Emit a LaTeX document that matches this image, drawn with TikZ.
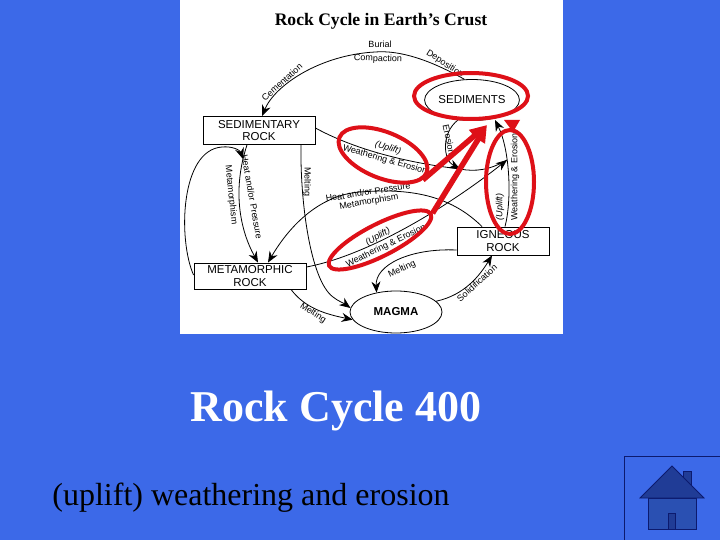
\documentclass[tikz,border=0pt]{standalone}
\usepackage{fontspec}
\setmainfont{Liberation Serif}
\setsansfont{Liberation Sans}
\usetikzlibrary{shapes.geometric, arrows.meta, positioning, calc}
\definecolor{slideblue}{RGB}{60, 105, 232}
\definecolor{ringred}{RGB}{222, 16, 24}
\definecolor{homenavy}{RGB}{12, 26, 110}
\definecolor{roofblue}{RGB}{32, 60, 150}
\definecolor{wallblue}{RGB}{42, 80, 178}
\begin{document}
\begin{tikzpicture}[
    x=1pt, y=-1pt,
    every node/.style={font=\sffamily\fontsize{9}{10}\selectfont, inner sep=0pt},
    rockbox/.style={rectangle, draw=black, fill=white, line width=0.9pt, align=center, font=\sffamily\fontsize{11.5}{12.5}\selectfont},
    rockoval/.style={ellipse, draw=black, fill=white, line width=0.8pt, align=center, font=\sffamily\fontsize{11.5}{12.5}\selectfont},
    arrow/.style={-{Stealth[length=11pt, width=9pt]}, line width=0.8pt, color=black},
    plainline/.style={line width=0.8pt, color=black},
    redring/.style={ellipse, draw=ringred, line width=4pt, fill=none},
    redarrow/.style={-{Triangle[length=17pt, width=15pt]}, line width=5.5pt, color=ringred}
]

% Slide and picture panel
\useasboundingbox (0,0) rectangle (720,540);
\fill[slideblue] (0,0) rectangle (720,540);
\fill[white] (180,0) rectangle (563,334);

% Title and slide text
\node[font=\rmfamily\bfseries\fontsize{17.6}{19}\selectfont] (title) at (381,21) {Rock Cycle in Earth's Crust};
\node[font=\rmfamily\bfseries\fontsize{44}{48}\selectfont, text=white] (points) at (336,411) {Rock Cycle 400};
\node[font=\rmfamily\fontsize{32}{36}\selectfont, text=black] (answer) at (251,498) {(uplift) weathering and erosion};

% Rock boxes and ovals
\node[rockbox, minimum width=112pt, minimum height=28pt] (sedrock) at (259,130.5) {SEDIMENTARY\\ROCK};
\node[rockbox, minimum width=112pt, minimum height=26pt] (metrock) at (250,276) {METAMORPHIC\\ROCK};
\node[rockbox, minimum width=92pt, minimum height=28pt] (ignrock) at (503,241) {IGNEOUS\\ROCK};
\node[rockoval, minimum width=90pt, minimum height=41pt] (sediments) at (472,100) {SEDIMENTS};
\node[rockoval, minimum width=92pt, minimum height=42pt] (magma) at (396,312) {\bfseries MAGMA};

% Free ends where the lines meet
\coordinate (erosionjoin) at (460,169);
\coordinate (uplifttip) at (507,160);
\coordinate (weathertip) at (495,120);

% Sediments to sedimentary rock
\draw[arrow] (sediments.110) .. controls (430,60) and (400,50) .. (375,52)
    .. controls (320,55) and (275,85) .. ([xshift=3pt]sedrock.north);

% Sedimentary and metamorphic loop
\draw[arrow] ([xshift=-12pt]sedrock.south) .. controls (232,190) and (240,230) .. ([xshift=8pt]metrock.north);
\draw[arrow] ([yshift=1pt]metrock.west) .. controls (178,240) and (180,150) .. (222,147) .. controls (232,146) and (240,150) .. (243,159);

% Melting to magma
\draw[arrow] ([xshift=42pt]sedrock.south) .. controls (300,200) and (310,280) .. (333,297) .. controls (338,301) and (345,304) .. (magma.175);
\draw[arrow] ([xshift=41pt]metrock.south) .. controls (305,308) and (325,314) .. (magma.190);
\draw[arrow] ([yshift=-9pt]ignrock.west) .. controls (410,248) and (375,265) .. (magma.135);

% Magma to igneous rock
\draw[arrow] (magma.15) .. controls (465,295) and (480,275) .. ([xshift=-11pt]ignrock.south);

% Weathering lines
\draw[plainline] ([yshift=2.5pt]sedrock.east) .. controls (350,147) and (400,162) .. (erosionjoin);
\draw[arrow] (sediments.235) .. controls (441,133) and (443,160) .. (erosionjoin);
\draw[plainline] (erosionjoin) .. controls (475,172) and (490,170) .. (uplifttip);
\draw[arrow] ([yshift=9pt]metrock.east) .. controls (370,255) and (450,205) .. (uplifttip);
\draw[arrow] ([xshift=2pt]ignrock.north) .. controls (512,200) and (510,150) .. (weathertip);

% Heat and pressure from igneous rock
\draw[arrow] ([xshift=-21pt]ignrock.north) .. controls (450,195) and (410,188) .. (360,192)
    .. controls (320,195) and (290,225) .. ([xshift=18pt]metrock.north);

% Labels
\node (burial) at (380,44) {Burial};
\node[rotate=-2] (compaction) at (378,59) {Compaction};
\node[rotate=-33] (deposition) at (445,64) {Deposition};
\node[rotate=42] (cementation) at (282,82) {Cementation};
\node[rotate=-78] (erosion) at (449,140) {Erosion};
\node[rotate=-17] (upliftone) at (388,148) {\itshape (Uplift)};
\node[rotate=-16] (weatherone) at (385,160) {Weathering \& Erosion};
\node[rotate=9] (heatmid) at (368,192) {Heat and/or Pressure};
\node[rotate=10] (metamid) at (369,202) {Metamorphism};
\node[rotate=30] (uplifttwo) at (378,237) {\itshape (Uplift)};
\node[rotate=26] (weathertwo) at (386,246) {Weathering \& Erosion};
\node[rotate=25] (meltign) at (402,269) {Melting};
\node[rotate=-33] (meltmet) at (313,313) {Melting};
\node[rotate=42] (solid) at (477,283) {Solidification};
\node[rotate=-90] (meltsed) at (307,182) {Melting};
\node[rotate=-80] (heatleft) at (252,197) {Heat and/or Pressure};
\node[rotate=-84] (metaleft) at (231,195) {Metamorphism};
\node[rotate=90] (upliftthree) at (500,207) {\itshape (Uplift)};
\node[rotate=90] (weatherthree) at (515,177) {Weathering \& Erosion};

% Red highlights
\node[redring, minimum width=114pt, minimum height=46pt] (ringsed) at (471,96) {};
\node[redring, minimum width=94pt, minimum height=46pt, rotate=-22] (ringtop) at (383,155) {};
\node[redring, minimum width=114pt, minimum height=32pt, rotate=27] (ringlow) at (380,240) {};
\node[redring, minimum width=48pt, minimum height=104pt] (ringright) at (510,182) {};
\coordinate (redtip) at (487,125);
\draw[redarrow] (ringtop.-10) -- (redtip);
\draw[redarrow] (ringlow.east) -- (redtip);
\fill[ringred] (504,120) -- (520,120) -- (513,132) -- cycle;

% Home button
\draw[homenavy, line width=1pt] (720,456) -- (624,456) -- (624,540);
\draw[homenavy, fill=roofblue, line width=0.8pt] (683,479) -- (683,471) -- (691.5,471) -- (691.5,487);
\draw[homenavy, fill=wallblue, line width=0.8pt] (648,498) rectangle (696,529);
\draw[homenavy, fill=roofblue, line width=0.8pt] (672,466) -- (640,498) -- (704,498) -- cycle;
\draw[homenavy, fill=roofblue, line width=0.8pt] (668,513) rectangle (675,529);

\end{tikzpicture}
\end{document}
